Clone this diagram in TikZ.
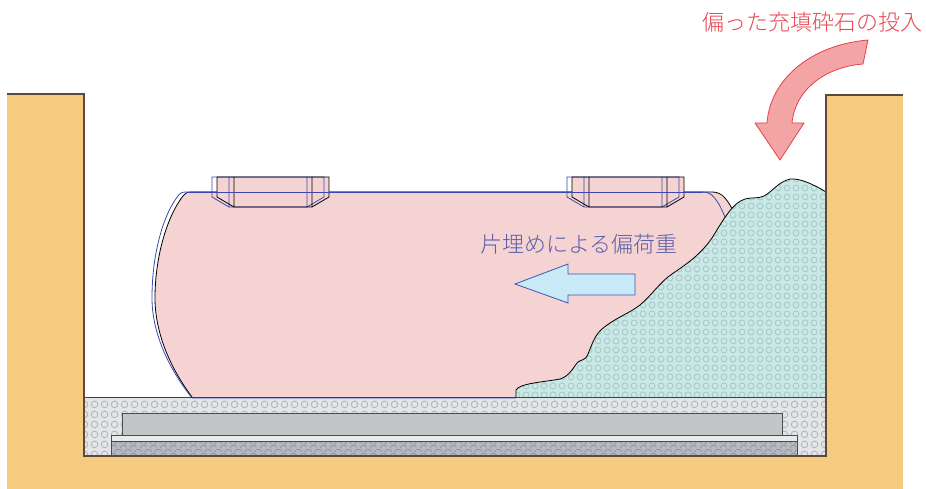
\documentclass[tikz,border=0pt]{standalone}
\usepackage{fontspec}
\newfontfamily\jpfont{Noto Sans CJK JP Light}
\usetikzlibrary{patterns.meta}

% small ring texture used for the packed gravel layers
\tikzdeclarepattern{
  name=pebbles, type=uncolored,
  bounding box={(0pt,0pt) and (9pt,9pt)},
  tile size={(9pt,9pt)},
  code={\draw[line width=0.9pt] (4.5pt,4.5pt) circle[radius=3.3pt];}
}
\tikzdeclarepattern{
  name=coarsepebbles, type=uncolored,
  bounding box={(0pt,0pt) and (10pt,10pt)},
  tile size={(10pt,10pt)},
  code={\draw[line width=0.9pt] (5pt,5pt) circle[radius=3.6pt];}
}
% scale-like texture of the crushed stone base
\tikzdeclarepattern{
  name=scales, type=uncolored,
  bounding box={(0pt,0pt) and (10pt,8pt)},
  tile size={(10pt,8pt)},
  code={
    \draw[line width=0.8pt] (0pt,1pt) .. controls (2pt,5pt) and (5pt,5pt) .. (7pt,2pt);
    \draw[line width=0.8pt] (5pt,5pt) .. controls (7pt,9pt) and (10pt,9pt) .. (12pt,6pt);
    \draw[line width=0.8pt] (-5pt,5pt) .. controls (-3pt,9pt) and (0pt,9pt) .. (2pt,6pt);
  }
}

\definecolor{ground}{HTML}{F6CB80}
\definecolor{groundedge}{HTML}{5C4A36}
\definecolor{bedfill}{HTML}{E4E5E8}
\definecolor{bedring}{HTML}{B0B3B8}
\definecolor{slabfill}{HTML}{C4C5C8}
\definecolor{stripfill}{HTML}{E9EAEC}
\definecolor{basefill}{HTML}{B6BAC0}
\definecolor{basering}{HTML}{8E939A}
\definecolor{tankfill}{HTML}{F6D3D3}
\definecolor{tankblue}{HTML}{3B48B0}
\definecolor{gravelfill}{HTML}{C9E8E6}
\definecolor{gravelring}{HTML}{A6C8C6}
\definecolor{pushfill}{HTML}{C8E9F6}
\definecolor{pushedge}{HTML}{3F52B5}
\definecolor{dropfill}{HTML}{F3A5A6}
\definecolor{dropedge}{HTML}{E8404A}
\definecolor{dropText}{HTML}{E8454E}
\definecolor{loadText}{HTML}{5A5FA8}

\tikzset{
  earth/.style={fill=ground},
  earthline/.style={draw=groundedge, line width=1.3pt},
  layeredge/.style={draw=black!70, line width=0.9pt},
  tankline/.style={draw=black, line width=0.8pt},
  tankcopy/.style={draw=tankblue, line width=0.8pt},
  label/.style={font=\jpfont\fontsize{22}{24}\selectfont, inner sep=0pt},
}

\begin{document}
\begin{tikzpicture}[x=1pt,y=-1pt]
\useasboundingbox (0,0) rectangle (926,489);

% ground around the pit
\fill[earth] (7,94) rectangle (84,489);
\fill[earth] (826,95) rectangle (903,489);
\fill[earth] (7,456) rectangle (903,489);

% bedding layer at the bottom of the pit
\fill[bedfill] (84,397) rectangle (826,456);
\fill[pattern=coarsepebbles, pattern color=bedring] (84,397) rectangle (826,456);

% crushed stone base, levelling strip and concrete slab
\fill[basefill] (111,441) rectangle (797,456);
\fill[pattern=scales, pattern color=basering] (111,441) rectangle (797,456);
\draw[layeredge] (111,456) -- (111,441) -- (797,441) -- (797,456);
\filldraw[fill=stripfill, layeredge] (111,435) rectangle (797,441);
\filldraw[fill=slabfill, layeredge] (122,435) -- (122,413) -- (782,413) -- (782,435);

% tank body
\fill[tankfill] (192,397) .. controls (168,365) and (155,330) .. (155,298)
  .. controls (155,255) and (168,215) .. (183,196)
  .. controls (185,193) and (187,192) .. (192,192)
  -- (712,192) .. controls (722,192) and (728,198) .. (738,222)
  .. controls (755,260) and (760,300) .. (755,340) -- (740,397) -- cycle;
\draw[tankline] (192,397) .. controls (168,365) and (155,330) .. (155,298)
  .. controls (155,255) and (168,215) .. (183,196)
  .. controls (185,193) and (187,192) .. (192,192)
  -- (712,192) .. controls (722,192) and (728,198) .. (738,222);
\draw[tankcopy] (516,398) -- (192,398) .. controls (166,365) and (152,330) .. (152,298)
  .. controls (152,250) and (165,212) .. (178,196)
  .. controls (180,193) and (182,192) .. (186,192)
  -- (703,192) .. controls (712,192) and (718,199) .. (727,222);

% manholes on top of the tank
\foreach \mx in {217,572} {
  \fill[tankfill] (\mx,177) -- ++(112,0) -- ++(0,20) -- ++(-17,10) -- ++(-78,0) -- ++(-17,-10) -- cycle;
  \draw[tankcopy, xshift=-5pt] (\mx,177) -- ++(112,0) -- ++(0,20) -- ++(-17,10) -- ++(-78,0) -- ++(-17,-10) -- cycle
    (\mx+17,177) -- (\mx+17,207) (\mx+95,177) -- (\mx+95,207);
  \draw[tankline] (\mx,177) -- ++(112,0) -- ++(0,20) -- ++(-17,10) -- ++(-78,0) -- ++(-17,-10) -- cycle
    (\mx+17,177) -- (\mx+17,207) (\mx+95,177) -- (\mx+95,207);
}
\draw[tankcopy] (186,192) -- (703,192);

% backfill heaped against one side of the tank
\def\heap{(516,397) -- (516,390) .. controls (520,383) and (545,382) .. (560,379)
  .. controls (570,376) and (574,366) .. (578,362)
  .. controls (582,359) and (585,361) .. (588,354)
  .. controls (592,345) and (594,336) .. (602,329)
  .. controls (615,318) and (630,313) .. (640,305)
  .. controls (652,295) and (660,282) .. (672,274)
  .. controls (688,263) and (700,255) .. (712,238)
  .. controls (722,222) and (732,203) .. (745,199)
  .. controls (752,197) and (758,199) .. (764,196)
  .. controls (772,192) and (778,182) .. (790,179)
  .. controls (800,178) and (815,185) .. (826,192)
  -- (826,397) -- cycle}
\fill[gravelfill] \heap;
\fill[pattern=pebbles, pattern color=gravelring] \heap;
\draw[line width=0.8pt] (516,397) -- (516,390) .. controls (520,383) and (545,382) .. (560,379)
  .. controls (570,376) and (574,366) .. (578,362)
  .. controls (582,359) and (585,361) .. (588,354)
  .. controls (592,345) and (594,336) .. (602,329)
  .. controls (615,318) and (630,313) .. (640,305)
  .. controls (652,295) and (660,282) .. (672,274)
  .. controls (688,263) and (700,255) .. (712,238)
  .. controls (722,222) and (732,203) .. (745,199)
  .. controls (752,197) and (758,199) .. (764,196)
  .. controls (772,192) and (778,182) .. (790,179)
  .. controls (800,178) and (815,185) .. (826,192);

% top of the bedding layer
\draw[line width=0.8pt, black!75] (84,397) -- (826,397);

% pit walls and ground surface
\draw[earthline] (7,94) -- (84,94) -- (84,456) -- (826,456) -- (826,95) -- (903,95);

% lateral load arrow
\filldraw[fill=pushfill, draw=pushedge, line width=0.8pt]
  (515,284) -- (568,264) -- (568,274) -- (635,274) -- (635,295) -- (568,295) -- (568,303) -- cycle;

% curved arrow for the backfill being dropped in
\filldraw[fill=dropfill, draw=dropedge, line width=0.8pt]
  (868,40) .. controls (810,45) and (770,80) .. (767,123)
  -- (755,123) -- (780,160) -- (804,123) -- (792,123)
  .. controls (795,90) and (825,67) .. (863,64) -- cycle;

\node[label, text=dropText] (droplabel) at (812,22) {偏った充填砕石の投入};
\node[label, text=loadText] (loadlabel) at (579,244) {片埋めによる偏荷重};
\end{tikzpicture}
\end{document}
